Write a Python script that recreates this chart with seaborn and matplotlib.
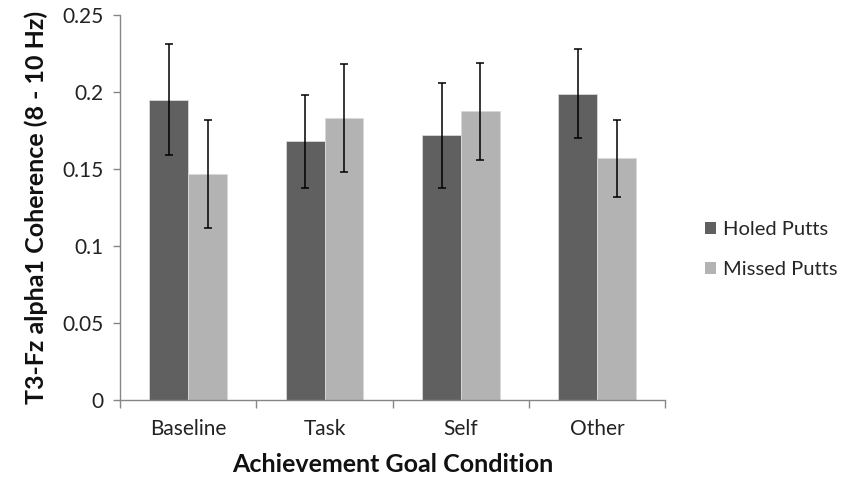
import matplotlib
matplotlib.use("Agg")
import matplotlib.pyplot as plt
import seaborn as sns
import pandas as pd
import numpy as np

categories = ["Baseline", "Task", "Self", "Other"]
series = ["Holed Putts", "Missed Putts"]
holed = [0.195, 0.168, 0.172, 0.199]
missed = [0.147, 0.183, 0.188, 0.157]
holed_hi = [0.231, 0.198, 0.206, 0.228]
holed_lo = [0.159, 0.138, 0.138, 0.170]
missed_hi = [0.182, 0.218, 0.219, 0.182]
missed_lo = [0.112, 0.148, 0.156, 0.132]
yticks = [0, 0.05, 0.1, 0.15, 0.2, 0.25]
ytick_labels = ["0", "0.05", "0.1", "0.15", "0.2", "0.25"]

df = pd.DataFrame({
    "Condition": categories * 2,
    "Series": [series[0]] * 4 + [series[1]] * 4,
    "Value": holed + missed,
})

sns.set_theme(style="white")
plt.rcParams["font.family"] = ["Lato", "DejaVu Sans"]

fig = plt.figure(figsize=(8.43, 4.86), dpi=100)
ax = fig.add_axes([0.1424, 0.177, 0.647, 0.792])

sns.barplot(data=df, x="Condition", y="Value", hue="Series", order=categories,
            hue_order=series, palette=["#606060", "#b3b3b3"], width=0.57,
            errorbar=None, saturation=1, edgecolor="#d9d9d9", linewidth=0.6, ax=ax)

# error bars
his = [holed_hi, missed_hi]
los = [holed_lo, missed_lo]
vals = [holed, missed]
bar_containers = list(ax.containers)
for si, cont in enumerate(bar_containers):
    for ci, p in enumerate(cont.patches):
        xc = p.get_x() + p.get_width() / 2
        v = vals[si][ci]
        ax.errorbar(xc, v, yerr=[[v - los[si][ci]], [his[si][ci] - v]],
                    fmt="none", ecolor="black", elinewidth=1.1, capsize=3,
                    capthick=1.1, zorder=5)

ax.set_xlim(-0.5, 3.5)
ax.set_ylim(0, 0.25)
ax.set_yticks(yticks)
ax.set_yticklabels(ytick_labels)
ax.set_xticks(range(4))
ax.set_xticklabels(categories)
ax.set_xticks([-0.5, 0.5, 1.5, 2.5, 3.5], minor=True)
ax.tick_params(axis="x", which="major", length=0, pad=14, labelsize=15, colors="#222222")
ax.tick_params(axis="x", which="minor", length=6, width=1, color="#868686", bottom=True, direction="out")
ax.tick_params(axis="y", which="major", length=5, width=1, color="#868686", left=True,
               direction="out", labelsize=15, labelcolor="#222222", pad=7)

for s in ["top", "right"]:
    ax.spines[s].set_visible(False)
for s in ["left", "bottom"]:
    ax.spines[s].set_color("#868686")
    ax.spines[s].set_linewidth(1)

ax.set_xlabel("Achievement Goal Condition", fontsize=18, fontweight="bold", labelpad=10, color="#111111")
ax.set_ylabel("T3-Fz alpha1 Coherence (8 - 10 Hz)", fontsize=18, fontweight="bold", labelpad=10, color="#111111")

leg = ax.legend(loc="center left", bbox_to_anchor=(1.04, 0.39), frameon=False,
                fontsize=14.5, handlelength=0.55, handleheight=0.55, handletextpad=0.3,
                labelspacing=1.15)
for h in leg.legend_handles:
    h.set_edgecolor("none")

fig.savefig("out.png", dpi=100)
